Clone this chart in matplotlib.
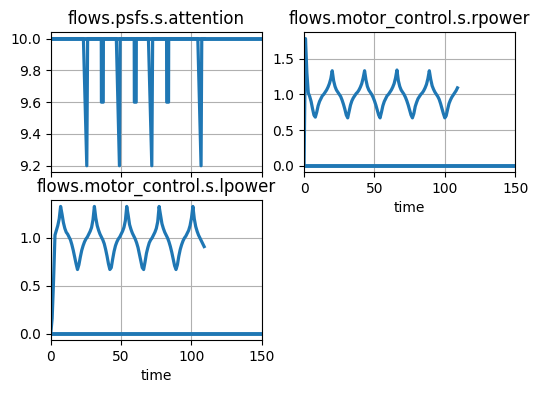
import numpy as np
import matplotlib
matplotlib.use('Agg')
import matplotlib.pyplot as plt

# nominal run, sampled once per time unit
time = list(range(0, 110))

rpower = [0.0, 1.78, 1.30, 1.02, 0.97, 0.90, 0.80, 0.71, 0.68, 0.75,
          0.84, 0.90, 0.94, 0.98, 1.00, 1.03, 1.06, 1.10, 1.15, 1.22,
          1.33, 1.19, 1.11, 1.06, 1.03, 1.00, 0.97, 0.92, 0.86, 0.79,
          0.71, 0.67, 0.76, 0.85, 0.91, 0.95, 0.98, 1.01, 1.03, 1.06,
          1.10, 1.15, 1.23, 1.33, 1.20, 1.11, 1.06, 1.03, 1.00, 0.96,
          0.91, 0.85, 0.78, 0.71, 0.67, 0.75, 0.84, 0.90, 0.94, 0.98,
          1.00, 1.03, 1.06, 1.10, 1.15, 1.23, 1.34, 1.19, 1.11, 1.06,
          1.03, 1.00, 0.96, 0.91, 0.85, 0.78, 0.71, 0.67, 0.73, 0.83,
          0.89, 0.94, 0.97, 1.00, 1.02, 1.05, 1.09, 1.14, 1.22, 1.33,
          1.21, 1.12, 1.07, 1.03, 1.00, 0.97, 0.93, 0.87, 0.80, 0.73,
          0.67, 0.70, 0.79, 0.87, 0.92, 0.96, 0.99, 1.02, 1.05, 1.09]

lpower = [0.0, 0.16, 0.56, 1.03, 1.08, 1.13, 1.20, 1.33, 1.25, 1.16,
          1.10, 1.06, 1.04, 1.01, 0.98, 0.93, 0.87, 0.80, 0.73, 0.67,
          0.72, 0.80, 0.87, 0.92, 0.96, 0.99, 1.01, 1.04, 1.07, 1.11,
          1.19, 1.33, 1.21, 1.13, 1.08, 1.04, 1.01, 0.98, 0.94, 0.88,
          0.81, 0.73, 0.67, 0.69, 0.78, 0.86, 0.92, 0.96, 0.99, 1.01,
          1.04, 1.07, 1.11, 1.18, 1.33, 1.24, 1.14, 1.09, 1.05, 1.02,
          0.99, 0.95, 0.90, 0.83, 0.76, 0.69, 0.67, 0.75, 0.84, 0.90,
          0.95, 0.98, 1.00, 1.03, 1.06, 1.10, 1.17, 1.33, 1.24, 1.15,
          1.10, 1.06, 1.03, 1.00, 0.96, 0.91, 0.85, 0.78, 0.71, 0.67,
          0.72, 0.81, 0.88, 0.93, 0.97, 1.00, 1.02, 1.05, 1.08, 1.13,
          1.21, 1.33, 1.20, 1.12, 1.07, 1.03, 1.00, 0.97, 0.94, 0.91]

# attention only changes at a few instants, so keep the breakpoints
att_time = [0, 23.2, 25.6, 26.2, 35.9, 36.0, 37.3, 37.4, 46.6, 48.8, 49.3,
            59.3, 59.4, 60.7, 60.8, 69.4, 71.8, 72.4, 82.3, 82.4, 83.7, 83.8,
            104.5, 106.8, 107.3, 109]
attention = [10, 10, 9.2, 10, 10, 9.6, 9.6, 10, 10, 9.2, 10,
             10, 9.6, 9.6, 10, 10, 9.2, 10, 10, 9.6, 9.6, 10,
             10, 9.2, 10, 10]

# faulty run: flat the whole way
fault_time = [0, 150]
fault_attention = [10, 10]
fault_rpower = [0, 0]
fault_lpower = [0, 0]

fig, axs = plt.subplots(2, 2, figsize=(5.4, 3.93), dpi=100)
fig.subplots_adjust(left=0.094, right=0.954, top=0.918, bottom=0.135,
                    wspace=0.2, hspace=0.2)

ax = axs[0][0]
ax.plot(att_time, attention, color='C0', lw=2.3)
ax.plot(fault_time, fault_attention, color='C0', lw=2.8)
ax.set_title('flows.psfs.s.attention')

ax = axs[0][1]
ax.plot(time, rpower, color='C0', lw=2.3)
ax.plot(fault_time, fault_rpower, color='C0', lw=2.8)
ax.set_title('flows.motor_control.s.rpower')
ax.set_xlabel('time')

ax = axs[1][0]
ax.plot(time, lpower, color='C0', lw=2.3)
ax.plot(fault_time, fault_lpower, color='C0', lw=2.8)
ax.set_title('flows.motor_control.s.lpower')
ax.set_xlabel('time')

for ax in [axs[0][0], axs[0][1], axs[1][0]]:
    ax.set_xlim(0, 150)
    ax.set_xticks([0, 50, 100, 150])
    ax.grid(True)
axs[0][0].set_xticklabels([])

axs[1][1].remove()

plt.savefig('out.png')
